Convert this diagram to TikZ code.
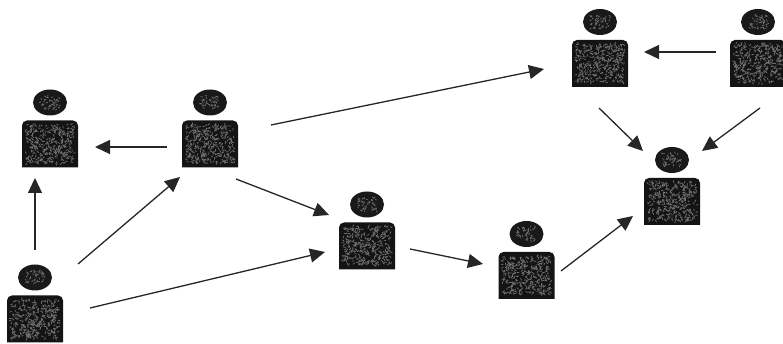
\documentclass[tikz,border=0pt]{standalone}
\usetikzlibrary{arrows.meta,shapes.geometric}
\tikzset{
  bodybox/.style={minimum width=56,minimum height=47,inner sep=0,outer sep=0},
  headbox/.style={ellipse,fill=black!90,minimum width=34,minimum height=26,inner sep=0,outer sep=0},
  grain/.style={black!55,line width=0.7pt,line cap=round},
  arr/.style={black!85,line width=1.3pt,-{Triangle[length=15pt,width=14pt]}}
}
\newcommand{\person}[2]{
   \node[bodybox] (#1) at (#2) {};
   \fill[black!92] (#1.south west) [rounded corners=5pt] -- (#1.north west) -- (#1.north east) [sharp corners] -- (#1.south east) -- cycle;
   \node[headbox] (#1head) at ([yshift=18]#1.north) {};
   \foreach \k in {1,...,340}
     \draw[grain] ([shift={(rand*24,rand*19.5)}]#1.center) -- ++(rnd*360:2);
   \foreach \k in {1,...,45}
     \draw[grain] ([shift={(rand*9.5,rand*7)}]#1head.center) -- ++(rnd*360:1.6);
}
\begin{document}
\begin{tikzpicture}[x=1pt,y=1pt]
   \useasboundingbox (0,0) rectangle (783,344);
   \pgfmathsetseed{4711}
   \person{lefttop}{50,200}
   \person{hub}{210,200}
   \person{source}{35,25}
   \person{middle}{367,98}
   \person{lower}{526.5,68.5}
   \person{upper}{600,280.5}
   \person{corner}{758,280.5}
   \person{sink}{672,142.5}
   % links
   \draw[arr] ([shift={(-15,-3)}]hub.west) -- ([shift={(17,-3)}]lefttop.east);
   \draw[arr] ([shift={(0,45.5)}]source.north) -- ([shift={(-15,-10.5)}]lefttop.south);
   \draw[arr] ([shift={(15,31.5)}]source.north east) -- ([shift={(-2,-9.5)}]hub.south west);
   \draw[arr] ([shift={(27,11)}]source.east) -- ([shift={(-14,-6)}]middle.west);
   \draw[arr] ([shift={(-2,-11.5)}]hub.south east) -- ([shift={(-10,7.5)}]middle.north west);
   \draw[arr] ([shift={(33,19)}]hub.east) -- ([shift={(-28,-5.5)}]upper.west);
   \draw[arr] ([shift={(15,-3)}]middle.east) -- ([shift={(-15.5,11.5)}]lower.west);
   \draw[arr] ([shift={(6.5,4.5)}]lower.east) -- ([shift={(-11,9)}]sink.south west);
   \draw[arr] ([shift={(-14,11.5)}]corner.west) -- ([shift={(16,11.5)}]upper.east);
   \draw[arr] ([shift={(-1,-21)}]upper.south) -- ([shift={(-1,27)}]sink.north west);
   \draw[arr] ([shift={(2,-21)}]corner.south) -- ([shift={(2,27)}]sink.north east);
\end{tikzpicture}
\end{document}
